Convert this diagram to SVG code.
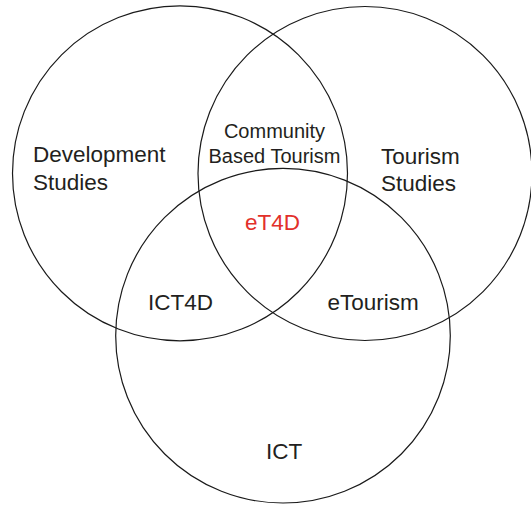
<svg xmlns="http://www.w3.org/2000/svg" width="531" height="505" viewBox="0 0 531 505">
  <style>
    .ring { fill: none; stroke: #1a1a1a; stroke-width: 1.2; }
    .lbl { font-family: "Liberation Sans", Arial, Helvetica, sans-serif; font-size: 22.5px; fill: #231f20; }
    .small { font-size: 20px; }
    .core { fill: #e2302a; }
  </style>
  <rect width="531" height="505" fill="#ffffff"/>

  <!-- three overlapping sets -->
  <g id="connectors"></g>

  <g id="development-studies">
    <circle class="ring" cx="180" cy="173.3" r="167.5"/>
    <text class="lbl" x="33" y="162">Development</text>
    <text class="lbl" x="33" y="189.5">Studies</text>
  </g>

  <g id="tourism-studies">
    <circle class="ring" cx="365" cy="173.5" r="167"/>
    <text class="lbl" x="381" y="163.5">Tourism</text>
    <text class="lbl" x="381" y="191">Studies</text>
  </g>

  <g id="ict">
    <circle class="ring" cx="283" cy="335.7" r="167.3"/>
    <text class="lbl" x="266" y="459">ICT</text>
  </g>

  <!-- pairwise and central overlaps -->
  <g id="community-based-tourism">
    <text class="lbl small" x="274.5" y="138" text-anchor="middle">Community</text>
    <text class="lbl small" x="274.5" y="163" text-anchor="middle">Based Tourism</text>
  </g>

  <g id="ict4d">
    <text class="lbl" x="148" y="309.5">ICT4D</text>
  </g>

  <g id="etourism">
    <text class="lbl" x="327.5" y="309.5">eTourism</text>
  </g>

  <g id="et4d">
    <text class="lbl core" x="245" y="230">eT4D</text>
  </g>
</svg>
